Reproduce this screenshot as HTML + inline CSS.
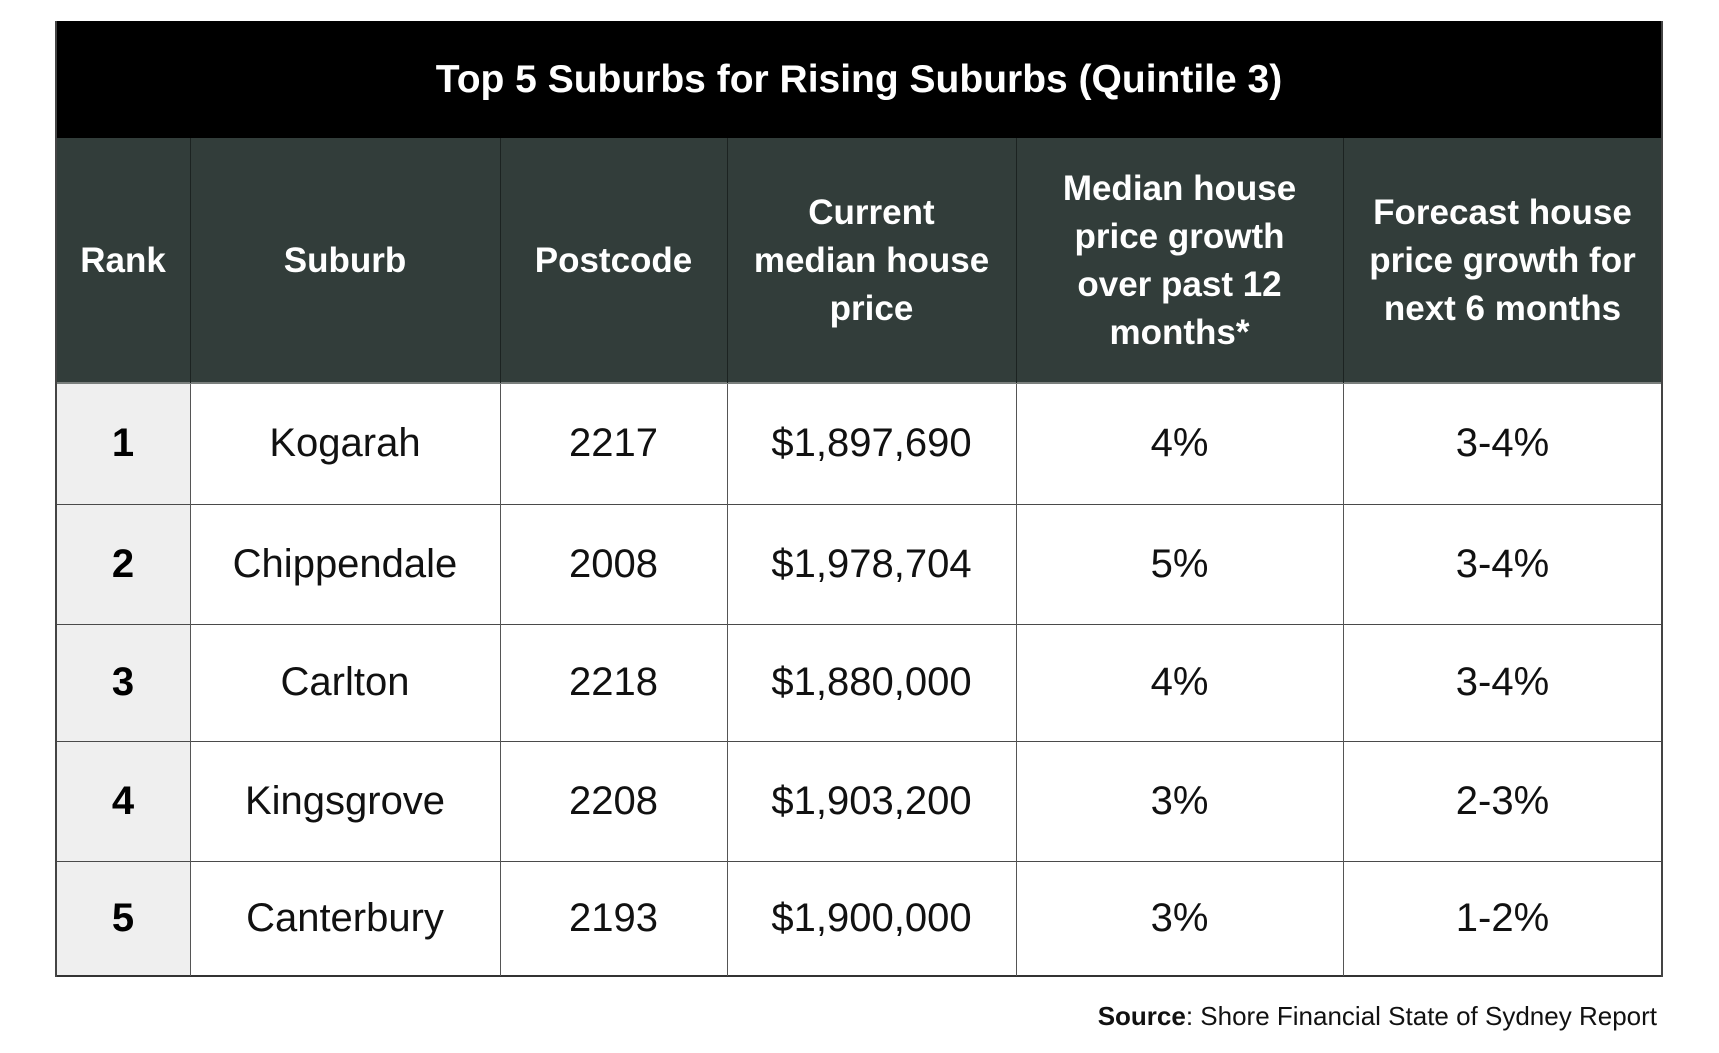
<!DOCTYPE html>
<html>
<head>
<meta charset="utf-8">
<style>
  html,body{margin:0;padding:0;}
  body{width:1719px;height:1053px;background:#fff;position:relative;overflow:hidden;font-family:"Liberation Sans",Arial,sans-serif;}
  .abs{position:absolute;}
  .title{left:56px;top:21px;width:1606px;height:117px;background:#000;color:#fff;font-weight:bold;font-size:39px;display:flex;align-items:center;justify-content:center;white-space:nowrap;}
  .hdr{top:138px;height:245px;background:#323d3a;color:#fff;font-weight:bold;font-size:35px;line-height:48px;display:flex;align-items:center;justify-content:center;text-align:center;white-space:nowrap;}
  .cell{display:flex;align-items:center;justify-content:center;font-size:40px;color:#111;white-space:nowrap;}
  .rank{background:#efefef;font-weight:bold;color:#000;}
  .hl{height:1px;background:#4a4a4a;left:56px;width:1606px;}
  .vl{width:1px;}
  .src{right:62px;top:1001px;font-size:26px;line-height:30px;color:#111;white-space:nowrap;}
</style>
</head>
<body>
<div class="abs title">Top 5 Suburbs for Rising Suburbs (Quintile 3)</div>

<!-- header cells -->
<div class="abs hdr" style="left:56px;width:134px;">Rank</div>
<div class="abs hdr" style="left:190px;width:310px;">Suburb</div>
<div class="abs hdr" style="left:500px;width:227px;">Postcode</div>
<div class="abs hdr" style="left:727px;width:289px;">Current<br>median house<br>price</div>
<div class="abs hdr" style="left:1016px;width:327px;">Median house<br>price growth<br>over past 12<br>months*</div>
<div class="abs hdr" style="left:1343px;width:319px;">Forecast house<br>price growth for<br>next 6 months</div>

<!-- rank column backgrounds -->
<div class="abs rank" style="left:56px;top:383px;width:134px;height:593px;"></div>

<!-- row 1 -->
<div class="abs cell rank" style="left:56px;top:383px;width:134px;height:121px;">1</div>
<div class="abs cell" style="left:190px;top:383px;width:310px;height:121px;">Kogarah</div>
<div class="abs cell" style="left:500px;top:383px;width:227px;height:121px;">2217</div>
<div class="abs cell" style="left:727px;top:383px;width:289px;height:121px;">$1,897,690</div>
<div class="abs cell" style="left:1016px;top:383px;width:327px;height:121px;">4%</div>
<div class="abs cell" style="left:1343px;top:383px;width:319px;height:121px;">3-4%</div>

<!-- row 2 -->
<div class="abs cell rank" style="left:56px;top:504px;width:134px;height:120px;">2</div>
<div class="abs cell" style="left:190px;top:504px;width:310px;height:120px;">Chippendale</div>
<div class="abs cell" style="left:500px;top:504px;width:227px;height:120px;">2008</div>
<div class="abs cell" style="left:727px;top:504px;width:289px;height:120px;">$1,978,704</div>
<div class="abs cell" style="left:1016px;top:504px;width:327px;height:120px;">5%</div>
<div class="abs cell" style="left:1343px;top:504px;width:319px;height:120px;">3-4%</div>

<!-- row 3 -->
<div class="abs cell rank" style="left:56px;top:624px;width:134px;height:117px;">3</div>
<div class="abs cell" style="left:190px;top:624px;width:310px;height:117px;">Carlton</div>
<div class="abs cell" style="left:500px;top:624px;width:227px;height:117px;">2218</div>
<div class="abs cell" style="left:727px;top:624px;width:289px;height:117px;">$1,880,000</div>
<div class="abs cell" style="left:1016px;top:624px;width:327px;height:117px;">4%</div>
<div class="abs cell" style="left:1343px;top:624px;width:319px;height:117px;">3-4%</div>

<!-- row 4 -->
<div class="abs cell rank" style="left:56px;top:741px;width:134px;height:120px;">4</div>
<div class="abs cell" style="left:190px;top:741px;width:310px;height:120px;">Kingsgrove</div>
<div class="abs cell" style="left:500px;top:741px;width:227px;height:120px;">2208</div>
<div class="abs cell" style="left:727px;top:741px;width:289px;height:120px;">$1,903,200</div>
<div class="abs cell" style="left:1016px;top:741px;width:327px;height:120px;">3%</div>
<div class="abs cell" style="left:1343px;top:741px;width:319px;height:120px;">2-3%</div>

<!-- row 5 -->
<div class="abs cell rank" style="left:56px;top:861px;width:134px;height:115px;">5</div>
<div class="abs cell" style="left:190px;top:861px;width:310px;height:115px;">Canterbury</div>
<div class="abs cell" style="left:500px;top:861px;width:227px;height:115px;">2193</div>
<div class="abs cell" style="left:727px;top:861px;width:289px;height:115px;">$1,900,000</div>
<div class="abs cell" style="left:1016px;top:861px;width:327px;height:115px;">3%</div>
<div class="abs cell" style="left:1343px;top:861px;width:319px;height:115px;">1-2%</div>

<!-- horizontal lines -->
<div class="abs hl" style="top:382px;height:2px;background:#7a7f7d;"></div>
<div class="abs hl" style="top:504px;"></div>
<div class="abs hl" style="top:624px;"></div>
<div class="abs hl" style="top:741px;"></div>
<div class="abs hl" style="top:861px;"></div>
<div class="abs hl" style="top:975px;height:2px;background:#333;"></div>

<!-- vertical lines: header part -->
<div class="abs vl" style="left:190px;top:138px;height:245px;background:#1c2321;"></div>
<div class="abs vl" style="left:500px;top:138px;height:245px;background:#1c2321;"></div>
<div class="abs vl" style="left:727px;top:138px;height:245px;background:#1c2321;"></div>
<div class="abs vl" style="left:1016px;top:138px;height:245px;background:#1c2321;"></div>
<div class="abs vl" style="left:1343px;top:138px;height:245px;background:#1c2321;"></div>

<!-- vertical lines: body part -->
<div class="abs vl" style="left:190px;top:384px;height:592px;background:#555;"></div>
<div class="abs vl" style="left:500px;top:384px;height:592px;background:#555;"></div>
<div class="abs vl" style="left:727px;top:384px;height:592px;background:#555;"></div>
<div class="abs vl" style="left:1016px;top:384px;height:592px;background:#555;"></div>
<div class="abs vl" style="left:1343px;top:384px;height:592px;background:#555;"></div>

<!-- outer borders -->
<div class="abs vl" style="left:55px;top:21px;width:2px;height:956px;background:#444;"></div>
<div class="abs vl" style="left:1661px;top:21px;width:2px;height:956px;background:#444;"></div>

<div class="abs src"><b>Source</b>: Shore Financial State of Sydney Report</div>
</body>
</html>
